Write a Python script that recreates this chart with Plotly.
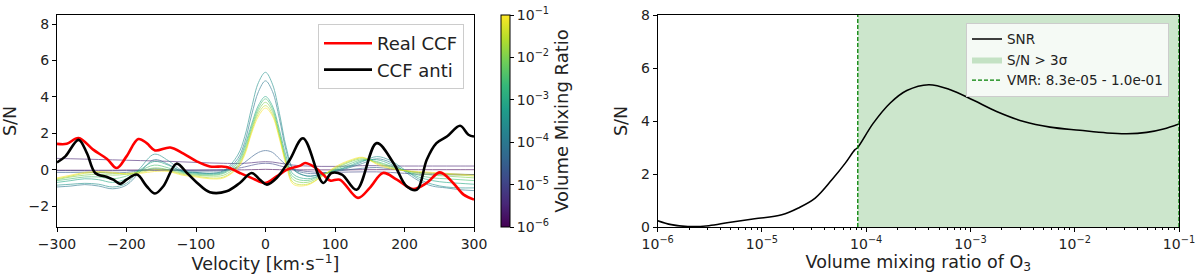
import plotly.graph_objects as go

# ---------------- Left panel data ----------------
velocity = [-300, -280, -260, -240, -220, -200, -180, -160, -140, -120, -100, -80, -60,
            -40, -30, -20, -10, 0, 10, 20, 30, 40, 60, 80, 100, 120, 140, 160, 180,
            200, 220, 240, 260, 280, 300]

model_vmr_labels = ["1e-6", "10^-5.5", "1e-5", "10^-4.5", "1e-4", "10^-3.5",
                    "1e-3", "10^-2.5", "1e-2", "10^-1.5", "1e-1"]
model_colors = ["#440154", "#482475", "#414487", "#355f8d", "#2a788e", "#21918c",
                "#22a884", "#44bf70", "#7ad151", "#bddf26", "#fde725"]

m_1e6 = [-0.03, -0.03, -0.03, -0.03, -0.03, -0.02, -0.02, -0.02, -0.02, -0.02, -0.02, -0.02, -0.02,
         -0.01, -0.01, 0.0, 0.01, 0.02, 0.01, 0.0, -0.01, -0.01, -0.01, -0.01, -0.01, -0.01, 0.0, 0.0, 0.0,
         0.0, 0.0, 0.0, 0.0, 0.0, 0.0]
m_3e6 = [0.62, 0.6, 0.58, 0.56, 0.54, 0.52, 0.5, 0.48, 0.46, 0.43, 0.4, 0.37, 0.35,
         0.34, 0.35, 0.38, 0.42, 0.44, 0.42, 0.36, 0.3, 0.25, 0.2, 0.18, 0.18, 0.2, 0.22, 0.22, 0.2,
         0.2, 0.2, 0.2, 0.2, 0.2, 0.2]
m_1e5 = [-0.05, -0.05, -0.05, -0.06, -0.06, -0.05, -0.04, -0.03, -0.03, -0.03, -0.03, -0.02, 0.0,
         0.08, 0.15, 0.24, 0.32, 0.35, 0.32, 0.22, 0.12, 0.02, -0.1, -0.15, -0.15, -0.13, -0.12, -0.12, -0.15,
         -0.2, -0.25, -0.27, -0.28, -0.28, -0.27]
m_3e5 = [-0.15, -0.15, -0.14, -0.15, -0.18, -0.15, -0.05, 0.05, 0.0, -0.05, -0.08, -0.08, -0.05,
         0.15, 0.4, 0.7, 0.95, 1.05, 0.95, 0.6, 0.25, 0.0, -0.2, -0.2, -0.1, 0.0, 0.08, 0.12, 0.05,
         -0.05, -0.15, -0.2, -0.22, -0.25, -0.27]
m_1e4 = [-0.95, -0.9, -0.82, -0.9, -1.05, -0.85, -0.1, 0.55, 0.3, -0.1, -0.15, -0.2, -0.1,
         0.6, 1.5, 3.0, 4.3, 4.88, 4.3, 2.8, 1.0, 0.0, -0.35, -0.25, -0.1, 0.1, 0.35, 0.6, 0.4,
         -0.1, -0.6, -0.9, -1.0, -1.1, -1.15]
m_3e4 = [-0.85, -0.8, -0.75, -0.8, -0.95, -0.75, 0.1, 0.85, 0.5, -0.05, -0.15, -0.2, -0.05,
         0.8, 1.8, 3.4, 4.8, 5.35, 4.7, 3.1, 1.2, 0.05, -0.35, -0.25, -0.05, 0.15, 0.45, 0.72, 0.5,
         0.0, -0.5, -0.8, -0.95, -1.0, -1.0]
m_1e3 = [-0.7, -0.6, -0.5, -0.55, -0.7, -0.5, 0.0, 0.45, 0.25, -0.1, -0.2, -0.25, -0.15,
         0.45, 1.3, 2.5, 3.55, 4.02, 3.5, 2.2, 0.7, -0.25, -0.5, -0.3, -0.05, 0.2, 0.5, 0.55, 0.3,
         -0.05, -0.4, -0.6, -0.7, -0.75, -0.8]
m_3e3 = [-0.6, -0.5, -0.4, -0.4, -0.5, -0.35, -0.05, 0.25, 0.1, -0.15, -0.25, -0.3, -0.2,
         0.35, 1.15, 2.35, 3.4, 3.89, 3.35, 2.0, 0.5, -0.4, -0.6, -0.3, 0.0, 0.3, 0.55, 0.45, 0.2,
         -0.05, -0.3, -0.45, -0.5, -0.55, -0.6]
m_1e2 = [-0.55, -0.4, -0.3, -0.25, -0.3, -0.25, -0.1, 0.1, 0.0, -0.2, -0.3, -0.35, -0.3,
         0.25, 1.0, 2.2, 3.25, 3.7, 3.2, 1.9, 0.4, -0.55, -0.7, -0.35, 0.05, 0.4, 0.6, 0.4, 0.15,
         -0.05, -0.2, -0.3, -0.35, -0.4, -0.45]
m_3e2 = [-0.5, -0.35, -0.2, -0.15, -0.2, -0.2, -0.15, 0.0, -0.05, -0.25, -0.35, -0.45, -0.4,
         0.15, 0.9, 2.1, 3.1, 3.52, 3.05, 1.8, 0.3, -0.7, -0.8, -0.4, 0.1, 0.45, 0.65, 0.35, 0.1,
         -0.05, -0.15, -0.2, -0.25, -0.3, -0.35]
m_1e1 = [-0.45, -0.3, -0.15, -0.1, -0.15, -0.25, -0.2, -0.1, -0.1, -0.3, -0.4, -0.5, -0.45,
         0.1, 0.8, 2.0, 2.95, 3.38, 2.95, 1.7, 0.2, -0.8, -0.85, -0.4, 0.15, 0.5, 0.68, 0.3, 0.05,
         -0.05, -0.1, -0.15, -0.2, -0.25, -0.3]
model_curves = [m_1e6, m_3e6, m_1e5, m_3e5, m_1e4, m_3e4, m_1e3, m_3e3, m_1e2, m_3e2, m_1e1]

real_v = [-300, -286, -269, -248, -228, -214, -200, -183, -171, -159, -137, -118, -99, -80, -56,
          -37, -18, -1, 16, 31, 50, 57, 69, 83, 93, 107, 133, 150, 169, 189, 212, 232, 251, 270, 285, 300]
real_sn = [1.42, 1.42, 1.74, 1.1, 0.59, 0.09, 0.73, 1.68, 1.46, 1.06, 1.22, 0.88, 0.46, 0.18, 0.15,
           -0.18, -0.49, -0.73, -0.37, 0.0, 0.22, 0.37, 0.18, -0.27, -0.6, -0.55, -1.55, -1.0, -0.18, -0.55,
           -1.06, -0.73, -0.15, -0.73, -1.37, -1.64]

anti_v = [-300, -288, -269, -257, -245, -228, -219, -209, -200, -185, -171, -159, -147, -128, -113,
          -99, -80, -56, -37, -20, -8, 2, 16, 35, 54, 83, 95, 110, 131, 160, 184, 203, 218, 232, 246,
          261, 280, 292, 300]
anti_sn = [0.4, 0.73, 1.64, 0.91, -0.18, -0.4, -0.55, -0.78, -0.55, -0.27, -0.91, -1.31, -0.91, 0.33, -0.18,
           -0.7, -1.24, -1.19, -0.73, -0.18, -0.55, -0.82, -0.46, 0.55, 1.73, -0.73, -0.18, -0.27, -1.1, 1.46,
           0.37, -0.91, -1.1, 0.55, 1.46, 1.82, 2.41, 1.92, 1.82]

cbar_tick_exp = [-6, -5, -4, -3, -2, -1]

# ---------------- Right panel data ----------------
vmr = [1.0e-6, 1.35e-6, 1.95e-6, 3.1e-6, 4.8e-6, 8.5e-6, 1.55e-5, 2.24e-5, 3.24e-5, 4.68e-5,
       6.3e-5, 7.8e-5, 8.2e-5, 1.17e-4, 1.70e-4, 2.45e-4, 3.98e-4, 6.4e-4, 1.07e-3, 1.78e-3,
       3.24e-3, 5.8e-3, 1.12e-2, 2.04e-2, 3.16e-2, 4.9e-2, 7.1e-2, 1.0e-1]
snr = [0.24, 0.09, 0.02, 0.05, 0.17, 0.31, 0.46, 0.72, 1.09, 1.78,
       2.41, 2.92, 2.98, 3.92, 4.68, 5.15, 5.37, 5.18, 4.78, 4.36,
       3.98, 3.77, 3.65, 3.55, 3.52, 3.57, 3.70, 3.89]
vmr_low, vmr_high = 8.3e-5, 1.0e-1
sn_max = 8
vmr_tick_exp = [-6, -5, -4, -3, -2, -1]

# ---------------- Figure ----------------
W, H = 1200, 280
ML, MR, MT, MB = 0, 0, 15, 53
FONT = "DejaVu Sans"
TITLE_SIZE = 17.5

fig = go.Figure()

for lab, col, ys in zip(model_vmr_labels, model_colors, model_curves):
    fig.add_trace(go.Scatter(x=velocity, y=ys, mode="lines", line=dict(color=col, width=1, shape="spline", smoothing=1.0),
                             opacity=0.6, showlegend=False, hoverinfo="skip", xaxis="x", yaxis="y", name=lab))

fig.add_trace(go.Scatter(x=real_v, y=real_sn, mode="lines", name="Real CCF",
                         line=dict(color="red", width=2.6, shape="spline", smoothing=1.0),
                         xaxis="x", yaxis="y", legend="legend"))
fig.add_trace(go.Scatter(x=anti_v, y=anti_sn, mode="lines", name="CCF anti",
                         line=dict(color="black", width=2.6, shape="spline", smoothing=1.0),
                         xaxis="x", yaxis="y", legend="legend"))

# colorbar carrier (invisible markers)
fig.add_trace(go.Scatter(
    x=[velocity[0], velocity[0]], y=[0, 0], mode="markers", showlegend=False, hoverinfo="skip",
    marker=dict(size=1, opacity=0, color=[cbar_tick_exp[0], cbar_tick_exp[-1]],
                cmin=cbar_tick_exp[0], cmax=cbar_tick_exp[-1], colorscale="Viridis", showscale=True,
                colorbar=dict(x=501 / W, xanchor="left", y=0.5, yanchor="middle", len=1, lenmode="fraction",
                              thickness=9, thicknessmode="pixels", xpad=0, ypad=0,
                              outlinewidth=1, outlinecolor="black",
                              tickvals=cbar_tick_exp,
                              ticktext=["10<sup>\u2212%d</sup>" % (-e) for e in cbar_tick_exp],
                              ticks="outside", ticklen=4, tickcolor="black",
                              tickfont=dict(family=FONT, size=14, color="#222"),
                              title=dict(text="Volume Mixing Ratio", side="right",
                                         font=dict(family=FONT, size=18, color="#222")))),
    xaxis="x", yaxis="y"))

# right panel: shaded region
fig.add_trace(go.Scatter(x=[vmr_low, vmr_high, vmr_high, vmr_low, vmr_low], y=[0, 0, sn_max, sn_max, 0],
                         mode="lines", fill="toself", fillcolor="rgba(0,128,0,0.2)",
                         line=dict(width=0, color="rgba(0,128,0,0.2)"), name="S/N > 3\u03c3",
                         xaxis="x2", yaxis="y2", legend="legend2", legendrank=2, hoverinfo="skip"))
fig.add_trace(go.Scatter(x=vmr, y=snr, mode="lines", name="SNR",
                         line=dict(color="black", width=1.6, shape="spline", smoothing=1.0),
                         xaxis="x2", yaxis="y2", legend="legend2", legendrank=1))
fig.add_trace(go.Scatter(x=[vmr_low, vmr_low, None, vmr_high, vmr_high], y=[0, sn_max, None, 0, sn_max],
                         mode="lines", name="VMR: %.1e - %.1e" % (vmr_low, vmr_high),
                         line=dict(color="green", width=1.3, dash="4px,2px"),
                         xaxis="x2", yaxis="y2", legend="legend2", legendrank=3, hoverinfo="skip"))

axis_common = dict(showgrid=False, zeroline=False, showline=True, mirror=True, linecolor="black", linewidth=1,
                   ticks="outside", ticklen=4, tickcolor="black", automargin=False,
                   tickfont=dict(family=FONT, size=14, color="#222"))

minor_vals = [m * 10 ** e for e in range(-6, -1) for m in range(2, 10)]

fig.update_layout(
    width=W, height=H, margin=dict(l=ML, r=MR, t=MT, b=MB, autoexpand=False),
    paper_bgcolor="white", plot_bgcolor="white",
    font=dict(family=FONT, color="#222"),
    xaxis=dict(domain=[57 / W, 474 / W], range=[-300, 300], tickvals=[-300, -200, -100, 0, 100, 200, 300],
               title=dict(text="Velocity [km\u00b7s<sup>\u22121</sup>]", font=dict(family=FONT, size=TITLE_SIZE), standoff=6),
               anchor="y", **axis_common),
    yaxis=dict(domain=[0, 1], range=[-3.15, 8.5], tickvals=[-2, 0, 2, 4, 6, 8],
               title=dict(text="S/N", font=dict(family=FONT, size=TITLE_SIZE), standoff=10),
               anchor="x", **axis_common),
    xaxis2=dict(domain=[657.7 / W, 1179 / W], type="log", range=[-6, -1],
                tickvals=[10.0 ** e for e in vmr_tick_exp],
                ticktext=["10<sup>\u2212%d</sup>" % (-e) for e in vmr_tick_exp],
                minor=dict(tickvals=minor_vals, ticks="outside", ticklen=2, tickcolor="black"),
                title=dict(text="Volume mixing ratio of O<sub>3</sub>", font=dict(family=FONT, size=TITLE_SIZE), standoff=4),
                anchor="y2", **axis_common),
    yaxis2=dict(domain=[0, 1], range=[0, sn_max], tickvals=[0, 2, 4, 6, 8],
                title=dict(text="S/N", font=dict(family=FONT, size=TITLE_SIZE), standoff=8),
                anchor="x2", **axis_common),
    legend=dict(x=318 / W, y=(227 - 24) / 212, xanchor="left", yanchor="top",
                bgcolor="rgba(255,255,255,0.8)", bordercolor="#cccccc", borderwidth=1,
                font=dict(family=FONT, size=18, color="#222"), tracegroupgap=0, itemwidth=48),
    legend2=dict(x=966 / W, y=(227 - 22.7) / 212, xanchor="left", yanchor="top",
                 bgcolor="rgba(255,255,255,0.8)", bordercolor="#cccccc", borderwidth=1,
                 font=dict(family=FONT, size=13.5, color="#222"), tracegroupgap=0, traceorder="normal"),
)

fig.write_html("out.html", config={"displayModeBar": False},
               post_script="document.body.style.margin='0';")
